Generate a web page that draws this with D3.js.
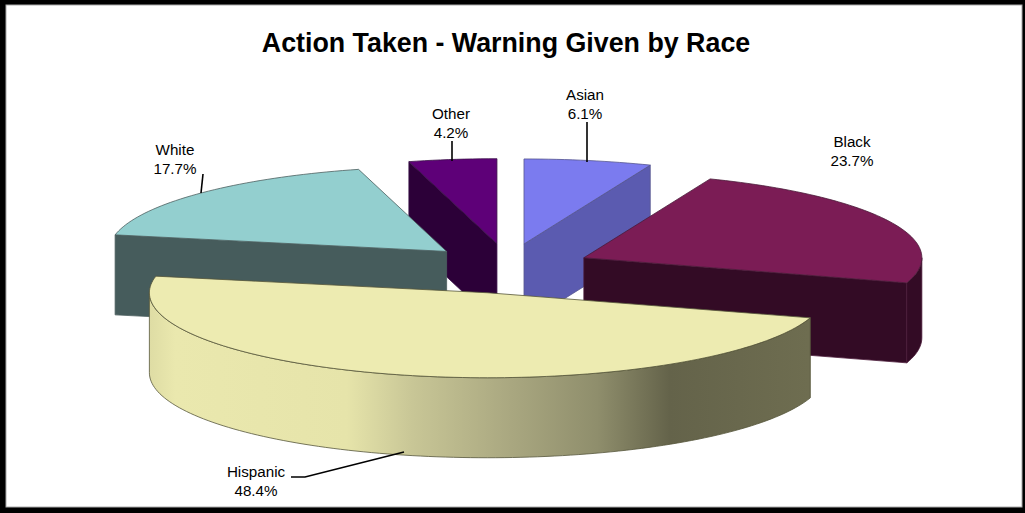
<!DOCTYPE html>
<html>
<head>
<meta charset="utf-8">
<script src="https://cdn.jsdelivr.net/npm/d3@7"></script>
<style>
  html, body { margin: 0; padding: 0; background: #fff; }
  svg { display: block; }
  text { font-family: "Liberation Sans", Arial, sans-serif; fill: #000; }
</style>
</head>
<body>
<div id="chart"></div>
<script>
let w = 1025;
let h = 513;

// data
let categories = ["Asian", "Black", "Hispanic", "White", "Other"];
let shares = [6.1, 23.7, 48.4, 17.7, 4.2];
let shareLabels = ["6.1%", "23.7%", "48.4%", "17.7%", "4.2%"];

// slice colours, same order as categories
let topColors = ["#7B7BEF", "#7B1C55", "#EDEBB1", "#93CFCF", "#5E0078"];
let wallColors = ["#5B5BB0", "#330B25", "#6B6A4E", "#465C5C", "#2C0038"];
let edgeColors = ["#55558f", "#4a1a38", "#55553a", "#4c6060", "#3a1048"];

// the fake 3d geometry
let cx = 508, cy = 268.5;
let rx = 338, ry = 85;
let explodeX = 84, explodeY = 25;
let depth = 80;

let labelX = [585, 852, 256, 175, 451];
let labelY = [100, 147, 477, 155, 119];
let leaders = [
  [[587, 122], [587, 162]],
  [],
  [[291, 477], [305, 477], [404, 452]],
  [[203, 174], [201, 193]],
  [[452, 141], [452, 161]]
];

let viz = d3.select("#chart").append("svg")
    .attr("width", w)
    .attr("height", h);

// uneven black frame, thicker on the left and bottom
viz.append("rect")
    .attr("width", w).attr("height", h)
    .attr("fill", "black");

viz.append("rect")
    .attr("x", 6).attr("y", 5)
    .attr("width", 1016).attr("height", 502)
    .attr("fill", "white")
    .attr("stroke", "#aaa")
    .attr("stroke-width", 1);

viz.append("text")
    .attr("x", 506).attr("y", 52)
    .attr("text-anchor", "middle")
    .attr("font-size", 26.8)
    .attr("font-weight", "bold")
    .text("Action Taken - Warning Given by Race");

// hispanic side wall shading
let grad = viz.append("defs").append("linearGradient")
    .attr("id", "hispanicWall")
    .attr("gradientUnits", "userSpaceOnUse")
    .attr("x1", 149).attr("x2", 808).attr("y1", 0).attr("y2", 0);
[[0, "#DEDCA4"], [0.04, "#EAE8AE"], [0.3, "#E6E4AA"], [0.4, "#C8C696"], [0.55, "#A9A780"],
 [0.68, "#8F8E6C"], [0.79, "#64634A"], [1, "#6E6D50"]].forEach(function(s) {
  grad.append("stop").attr("offset", s[0]).attr("stop-color", s[1]);
});

let pie = d3.pie().sort(null).value(function(d) { return d; });
let arcs = pie(shares);

let slices = arcs.map(function(a, i) {
  let mid = (a.startAngle + a.endAngle) / 2;
  return {
    i: i,
    start: a.startAngle,
    end: a.endAngle,
    ax: cx + explodeX * Math.sin(mid),
    ay: cy - explodeY * Math.cos(mid)
  };
});

function px(s, a) { return s.ax + rx * Math.sin(a); }
function py(s, a) { return s.ay - ry * Math.cos(a); }

let line = d3.line();

function rimPoints(s, a0, a1, dy) {
  let n = Math.max(2, Math.ceil(Math.abs(a1 - a0) * 40));
  return d3.range(n + 1).map(function(k) {
    let a = a0 + (a1 - a0) * k / n;
    return [px(s, a), py(s, a) + dy];
  });
}

function radialWall(s, a) {
  return line([[s.ax, s.ay], [px(s, a), py(s, a)], [px(s, a), py(s, a) + depth], [s.ax, s.ay + depth]]) + "Z";
}

// back to front: Other, Asian, White, Black, Hispanic
let drawOrder = [4, 0, 3, 1, 2];
let pieG = viz.append("g").attr("class", "pie");

drawOrder.forEach(function(idx) {
  let s = slices[idx];
  let g = pieG.append("g");
  let wall = wallColors[idx], edge = edgeColors[idx];

  // flat cut faces that look toward the viewer
  if (Math.sin(s.start) < -0.001) {
    g.append("path").attr("d", radialWall(s, s.start))
      .attr("fill", wall).attr("stroke", edge).attr("stroke-width", 0.8);
  }
  if (Math.sin(s.end) > 0.001) {
    g.append("path").attr("d", radialWall(s, s.end))
      .attr("fill", wall).attr("stroke", edge).attr("stroke-width", 0.8);
  }

  // rounded outside wall, only the front half of the ellipse shows
  let a0 = Math.max(s.start, Math.PI / 2);
  let a1 = Math.min(s.end, 3 * Math.PI / 2);
  if (a1 > a0) {
    let pts = rimPoints(s, a0, a1, 0).concat(rimPoints(s, a1, a0, depth));
    g.append("path").attr("d", line(pts) + "Z")
      .attr("fill", idx === 2 ? "url(#hispanicWall)" : wall)
      .attr("stroke", edge).attr("stroke-width", 0.8);
  }

  let topPts = [[s.ax, s.ay]].concat(rimPoints(s, s.start, s.end, 0));
  g.append("path").attr("d", line(topPts) + "Z")
    .attr("fill", topColors[idx])
    .attr("stroke", edge).attr("stroke-width", 0.8)
    .attr("stroke-linejoin", "round");
});

// leader lines
leaders.forEach(function(pts) {
  if (pts.length === 0) return;
  viz.append("path")
    .attr("d", line(pts))
    .attr("fill", "none")
    .attr("stroke", "black")
    .attr("stroke-width", 1.6);
});

// labels
categories.forEach(function(name, i) {
  let t = viz.append("text")
      .attr("text-anchor", "middle")
      .attr("font-size", 15.2);
  t.append("tspan").attr("x", labelX[i]).attr("y", labelY[i]).text(name);
  t.append("tspan").attr("x", labelX[i]).attr("y", labelY[i] + 18.5).text(shareLabels[i]);
});
</script>
</body>
</html>
